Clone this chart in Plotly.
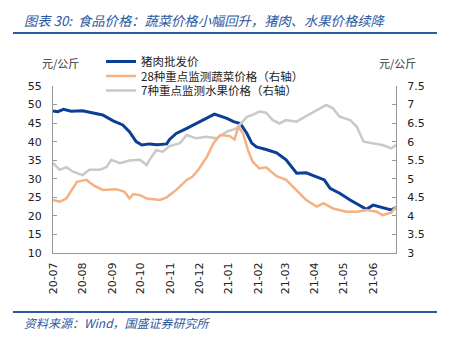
import plotly.graph_objects as go

pork_dates = ["2020-07-01","2020-07-06","2020-07-12","2020-07-20","2020-08-01","2020-08-06","2020-08-12","2020-08-22",
              "2020-09-02","2020-09-12","2020-09-19","2020-09-26","2020-10-02","2020-10-10","2020-10-18","2020-10-28",
              "2020-10-31","2020-11-07","2020-11-18","2020-11-28","2020-12-09","2020-12-17","2020-12-30","2021-01-06",
              "2021-01-13","2021-01-20","2021-01-25","2021-01-30","2021-02-09","2021-02-20","2021-03-02","2021-03-13",
              "2021-03-23","2021-04-03","2021-04-11","2021-04-17","2021-04-27","2021-05-08","2021-05-18","2021-05-25",
              "2021-06-01","2021-06-11","2021-06-20","2021-06-25"]
pork = [48.3, 48.1, 48.7, 48.2, 48.3, 48.0, 47.8, 47.2,
        45.6, 44.5, 42.7, 40.0, 39.1, 39.4, 39.2, 39.4,
        40.6, 42.2, 43.6, 44.9, 46.3, 47.4, 46.3, 45.4,
        44.9, 42.2, 39.6, 38.6, 37.9, 37.0, 35.1, 31.5,
        31.6, 30.4, 29.7, 27.4, 26.1, 24.3, 22.9, 21.8,
        22.9, 22.3, 21.6, 22.3]

veg_dates = ["2020-07-01","2020-07-08","2020-07-15","2020-07-22","2020-07-26","2020-08-01","2020-08-05","2020-08-12",
             "2020-08-22","2020-09-05","2020-09-14","2020-09-19","2020-09-23","2020-09-30","2020-10-07","2020-10-21",
             "2020-10-28","2020-11-07","2020-11-18","2020-11-24","2020-11-30","2020-12-09","2020-12-16","2020-12-23",
             "2021-01-02","2021-01-07","2021-01-11","2021-01-16","2021-01-21","2021-01-26","2021-02-02","2021-02-09",
             "2021-02-20","2021-03-02","2021-03-13","2021-03-23","2021-04-03","2021-04-10","2021-04-20","2021-05-04",
             "2021-05-15","2021-05-25","2021-06-05","2021-06-11","2021-06-20","2021-06-25"]
veg = [4.43, 4.38, 4.47, 4.74, 4.92, 4.95, 4.97, 4.83,
       4.70, 4.72, 4.65, 4.47, 4.59, 4.56, 4.47, 4.43,
       4.50, 4.70, 4.97, 5.06, 5.24, 5.59, 5.96, 6.18,
       6.15, 6.06, 6.40, 6.22, 5.77, 5.46, 5.28, 5.31,
       5.07, 4.97, 4.70, 4.43, 4.25, 4.34, 4.20, 4.11,
       4.11, 4.16, 4.11, 4.02, 4.09, 4.25]

fruit_dates = ["2020-07-01","2020-07-08","2020-07-15","2020-07-22","2020-08-01","2020-08-08","2020-08-19","2020-08-26",
               "2020-08-31","2020-09-09","2020-09-19","2020-09-30","2020-10-07","2020-10-10","2020-10-17","2020-10-24",
               "2020-10-31","2020-11-11","2020-11-18","2020-11-28","2020-12-09","2020-12-19","2020-12-30","2021-01-09",
               "2021-01-20","2021-01-26","2021-02-02","2021-02-09","2021-02-16","2021-02-23","2021-03-02","2021-03-13",
               "2021-03-23","2021-04-03","2021-04-13","2021-04-20","2021-04-27","2021-05-08","2021-05-15","2021-05-22",
               "2021-06-01","2021-06-11","2021-06-20","2021-06-25"]
fruit = [5.43, 5.24, 5.31, 5.19, 5.10, 5.24, 5.24, 5.32,
         5.51, 5.42, 5.49, 5.51, 5.37, 5.51, 5.77, 5.73,
         5.88, 5.96, 6.18, 6.09, 6.13, 6.09, 6.27, 6.36,
         6.67, 6.72, 6.81, 6.78, 6.58, 6.49, 6.58, 6.54,
         6.69, 6.85, 6.99, 6.90, 6.67, 6.58, 6.40, 6.00,
         5.96, 5.91, 5.82, 5.91]

month_ticks = ["2020-07-01","2020-08-01","2020-09-01","2020-10-01","2020-11-01","2020-12-01",
               "2021-01-01","2021-02-01","2021-03-01","2021-04-01","2021-05-01","2021-06-01"]
month_labels = ["20-07","20-08","20-09","20-10","20-11","20-12",
                "21-01","21-02","21-03","21-04","21-05","21-06"]

names = ["猪肉批发价", "28种重点监测蔬菜价格（右轴）", "7种重点监测水果价格（右轴）"]

CJK = "Noto Sans CJK SC"
TICKF = dict(family="DejaVu Sans", size=11, color="#222")

fig = go.Figure()
fig.add_trace(go.Scatter(x=pork_dates, y=pork, name=names[0], mode="lines",
                         line=dict(color="#0A3F95", width=3), legend="legend"))
fig.add_trace(go.Scatter(x=fruit_dates, y=fruit, name=names[2], mode="lines", yaxis="y2",
                         line=dict(color="#C9C9C9", width=2.5), legend="legend3"))
fig.add_trace(go.Scatter(x=veg_dates, y=veg, name=names[1], mode="lines", yaxis="y2",
                         line=dict(color="#F5B183", width=2.5), legend="legend2"))

W, H = 453, 339
L, R, T, B = 53, 57, 86, 86
pw, ph = W - L - R, H - T - B
px = lambda x: (x - L) / pw
py = lambda y: (H - B - y) / ph

leg_common = dict(font=dict(family=CJK, size=11.5, color="#222"), bgcolor="rgba(0,0,0,0)",
                  xanchor="left", yanchor="middle", itemwidth=30, tracegroupgap=0)

fig.update_layout(
    width=W, height=H,
    margin=dict(l=L, r=R, t=T, b=B),
    paper_bgcolor="white", plot_bgcolor="white",
    showlegend=True,
    legend=dict(x=px(101), y=py(61.5), **leg_common),
    legend2=dict(x=px(101), y=py(76), **leg_common),
    legend3=dict(x=px(101), y=py(90.5), **leg_common),
    xaxis=dict(type="date", range=["2020-07-01", "2021-06-25"],
               tickmode="array", tickvals=month_ticks, ticktext=month_labels,
               tickangle=-90, tickfont=TICKF, showline=True, linecolor="#999", linewidth=1,
               showgrid=False, ticks="", zeroline=False, ticklabelstandoff=4),
    yaxis=dict(range=[10, 55], dtick=5, tick0=10, tickfont=TICKF, showline=True,
               linecolor="#999", linewidth=1, ticks="inside", ticklen=4, tickcolor="#999",
               showgrid=False, zeroline=False, ticklabelstandoff=8),
    yaxis2=dict(range=[3, 7.5], dtick=0.5, tick0=3, tickfont=TICKF, showline=True,
                linecolor="#999", linewidth=1, ticks="inside", ticklen=4, tickcolor="#999",
                showgrid=False, zeroline=False, side="right", overlaying="y",
                ticklabelstandoff=8),
    shapes=[
        dict(type="line", xref="paper", yref="paper", x0=px(13), x1=px(437), y0=py(33), y1=py(33),
             line=dict(color="#2E58A0", width=2)),
        dict(type="line", xref="paper", yref="paper", x0=px(13), x1=px(437), y0=py(312), y1=py(312),
             line=dict(color="#2E58A0", width=2)),
    ],
    annotations=[
        dict(text="<i>图表 30:  食品价格：蔬菜价格小幅回升，猪肉、水果价格续降</i>", xref="paper", yref="paper",
             x=px(22), y=py(20), xanchor="left", yanchor="middle", showarrow=False,
             font=dict(family=CJK, size=13.3, color="#2E58A0")),
        dict(text="<i>资料来源：Wind，国盛证券研究所</i>", xref="paper", yref="paper",
             x=px(22), y=py(322), xanchor="left", yanchor="middle", showarrow=False,
             font=dict(family=CJK, size=12, color="#2E58A0")),
        dict(text="元/公斤", xref="paper", yref="paper", x=px(40), y=py(63),
             xanchor="left", yanchor="middle", showarrow=False,
             font=dict(family=CJK, size=11, color="#333")),
        dict(text="元/公斤", xref="paper", yref="paper", x=px(377), y=py(63),
             xanchor="left", yanchor="middle", showarrow=False,
             font=dict(family=CJK, size=11, color="#333")),
    ],
)

fig.write_html("out.html")
